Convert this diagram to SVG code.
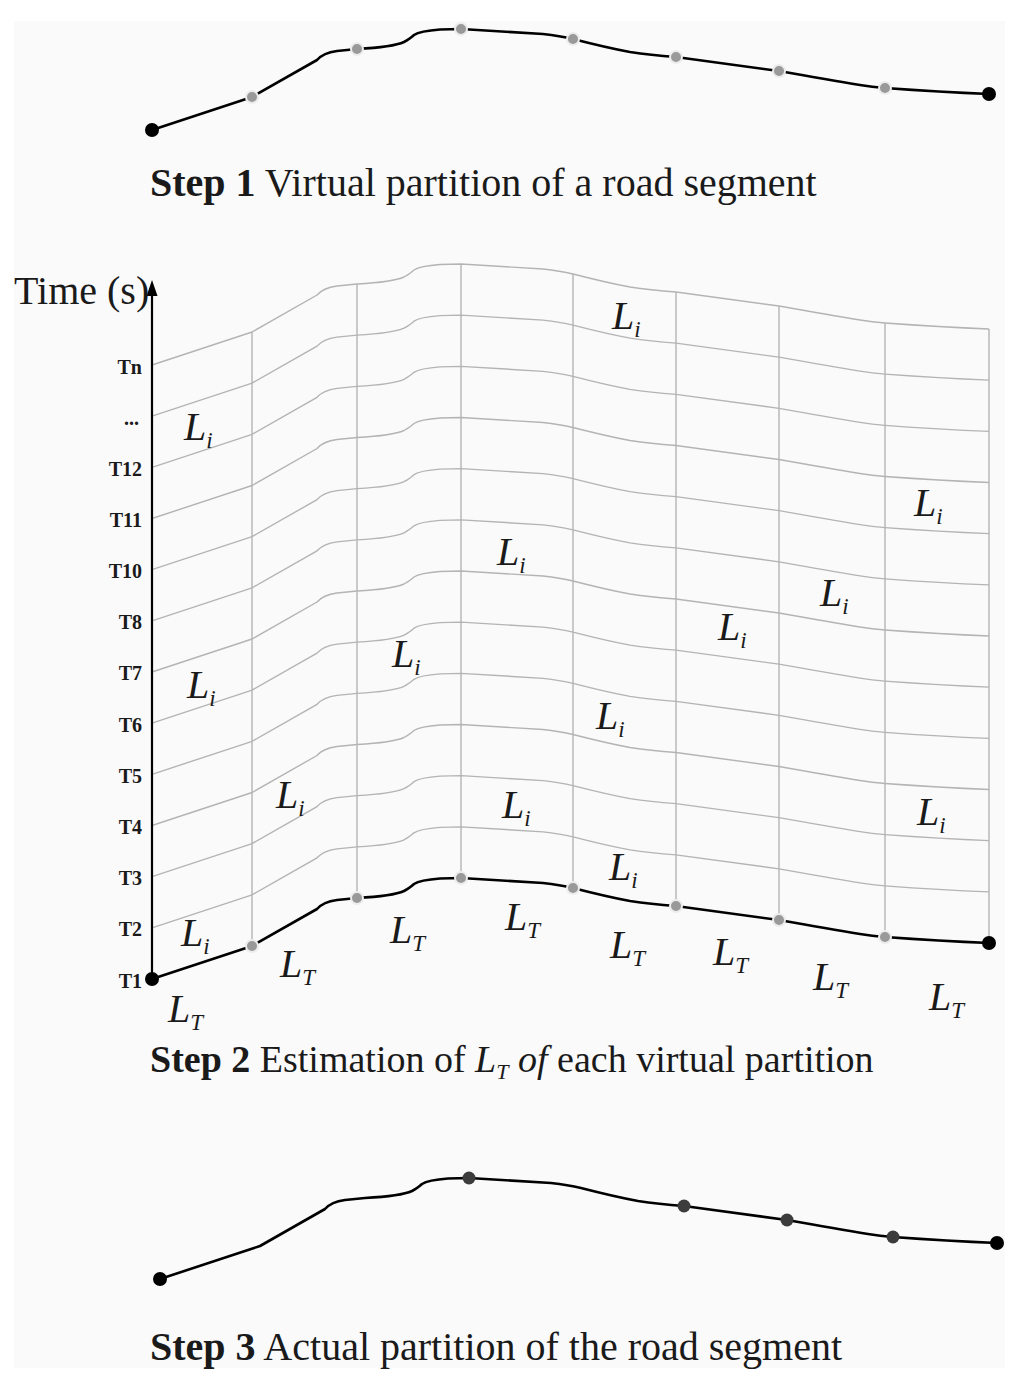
<svg xmlns="http://www.w3.org/2000/svg" xmlns:xlink="http://www.w3.org/1999/xlink" width="1024" height="1379" viewBox="0 0 1024 1379">
<style>
.road{fill:none;stroke:#000;stroke-width:2.6;stroke-linejoin:round;stroke-linecap:round}
.grid{fill:none;stroke:#b4b4b4;stroke-width:1.4}
.vd{fill:#999;stroke:#ececec;stroke-width:2}
.end{fill:#000}
.ad{fill:#3c3c3c}
.step{font-family:"Liberation Serif","Times New Roman",serif;font-size:40px;fill:#1a1a1a}
.b{font-weight:bold}
.tl{font-family:"Liberation Serif","Times New Roman",serif;font-size:20px;font-weight:bold;fill:#1a1a1a;text-anchor:end}
.L{font-family:"Liberation Serif","Times New Roman",serif;font-style:italic;font-size:40px;fill:#1a1a1a}
.sub{font-size:23px}
</style>
<defs>
<path id="curve" d="M152,130 L240,101 Q246,99 252,97 L317,60 Q323,53 337,51 L357,49 Q393,47 404,42 Q411,38 414,35 Q420,31 440,29.5 L461,29 L543,34 Q560,36 573,39 Q608,48 630,52 Q650,55 676,57 L779,71 Q830,80 860,85 Q872,87 885,88 Q940,92 989,94"/>
</defs>
<rect x="0" y="0" width="1024" height="1379" fill="#fff"/>
<rect x="14" y="21" width="991" height="1347" fill="#fafafa"/>

<g id="connectors">
  <g id="step1-road"><use xlink:href="#curve" class="road"/></g>
  <g id="grid-curves" class="grid">
    <use xlink:href="#curve" transform="translate(0,797.83)"/>
    <use xlink:href="#curve" transform="translate(0,746.66)"/>
    <use xlink:href="#curve" transform="translate(0,695.5)"/>
    <use xlink:href="#curve" transform="translate(0,644.33)"/>
    <use xlink:href="#curve" transform="translate(0,593.16)"/>
    <use xlink:href="#curve" transform="translate(0,542)"/>
    <use xlink:href="#curve" transform="translate(0,490.83)"/>
    <use xlink:href="#curve" transform="translate(0,439.66)"/>
    <use xlink:href="#curve" transform="translate(0,388.5)"/>
    <use xlink:href="#curve" transform="translate(0,337.33)"/>
    <use xlink:href="#curve" transform="translate(0,286.16)"/>
    <use xlink:href="#curve" transform="translate(0,235)"/>
  </g>
  <g id="grid-verticals" class="grid">
    <line x1="252" y1="946" x2="252" y2="332"/>
    <line x1="357" y1="898" x2="357" y2="284"/>
    <line x1="461" y1="878" x2="461" y2="264"/>
    <line x1="573" y1="888" x2="573" y2="274"/>
    <line x1="676" y1="906" x2="676" y2="292"/>
    <line x1="779" y1="920" x2="779" y2="306"/>
    <line x1="885" y1="937" x2="885" y2="323"/>
    <line x1="989" y1="943" x2="989" y2="329"/>
  </g>
  <g id="step2-road"><use xlink:href="#curve" class="road" transform="translate(0,849)"/></g>
  <g id="time-axis">
    <line x1="152" y1="979" x2="152" y2="292" stroke="#000" stroke-width="2.2"/>
    <polygon points="152,280 146.5,296 157.5,296" fill="#000"/>
  </g>
  <g id="step3-road"><use xlink:href="#curve" class="road" transform="translate(8,1149)"/></g>
</g>

<g id="step1-nodes">
  <circle class="end" cx="152" cy="130" r="7"/>
  <circle class="vd" cx="252" cy="97" r="6"/>
  <circle class="vd" cx="357" cy="49" r="6"/>
  <circle class="vd" cx="461" cy="29" r="6"/>
  <circle class="vd" cx="573" cy="39" r="6"/>
  <circle class="vd" cx="676" cy="57" r="6"/>
  <circle class="vd" cx="779" cy="71" r="6"/>
  <circle class="vd" cx="885" cy="88" r="6"/>
  <circle class="end" cx="989" cy="94" r="7"/>
</g>
<g id="step1-label"><text class="step" x="150" y="196"><tspan class="b">Step 1</tspan> Virtual partition of a road segment</text></g>

<g id="axis-label"><text class="step" x="14" y="304">Time (s)</text></g>
<g id="time-labels">
  <text class="tl" x="142" y="988">T1</text>
  <text class="tl" x="142" y="936">T2</text>
  <text class="tl" x="142" y="885">T3</text>
  <text class="tl" x="142" y="834">T4</text>
  <text class="tl" x="142" y="783">T5</text>
  <text class="tl" x="142" y="732">T6</text>
  <text class="tl" x="142" y="680">T7</text>
  <text class="tl" x="142" y="629">T8</text>
  <text class="tl" x="142" y="578">T10</text>
  <text class="tl" x="142" y="527">T11</text>
  <text class="tl" x="142" y="476">T12</text>
  <text class="tl" x="139" y="425">...</text>
  <text class="tl" x="142" y="374">Tn</text>
</g>

<g id="step2-nodes">
  <circle class="end" cx="152" cy="979" r="7"/>
  <circle class="vd" cx="252" cy="946" r="6"/>
  <circle class="vd" cx="357" cy="898" r="6"/>
  <circle class="vd" cx="461" cy="878" r="6"/>
  <circle class="vd" cx="573" cy="888" r="6"/>
  <circle class="vd" cx="676" cy="906" r="6"/>
  <circle class="vd" cx="779" cy="920" r="6"/>
  <circle class="vd" cx="885" cy="937" r="6"/>
  <circle class="end" cx="989" cy="943" r="7"/>
</g>

<g id="li-labels">
  <text class="L" x="612" y="329">L<tspan class="sub" dy="8">i</tspan></text>
  <text class="L" x="184" y="440">L<tspan class="sub" dy="8">i</tspan></text>
  <text class="L" x="914" y="516">L<tspan class="sub" dy="8">i</tspan></text>
  <text class="L" x="497" y="565">L<tspan class="sub" dy="8">i</tspan></text>
  <text class="L" x="820" y="606">L<tspan class="sub" dy="8">i</tspan></text>
  <text class="L" x="718" y="640">L<tspan class="sub" dy="8">i</tspan></text>
  <text class="L" x="392" y="667">L<tspan class="sub" dy="8">i</tspan></text>
  <text class="L" x="187" y="698">L<tspan class="sub" dy="8">i</tspan></text>
  <text class="L" x="596" y="729">L<tspan class="sub" dy="8">i</tspan></text>
  <text class="L" x="276" y="808">L<tspan class="sub" dy="8">i</tspan></text>
  <text class="L" x="502" y="818">L<tspan class="sub" dy="8">i</tspan></text>
  <text class="L" x="917" y="825">L<tspan class="sub" dy="8">i</tspan></text>
  <text class="L" x="609" y="880">L<tspan class="sub" dy="8">i</tspan></text>
  <text class="L" x="181" y="946">L<tspan class="sub" dy="8">i</tspan></text>
</g>
<g id="lt-labels">
  <text class="L" x="168" y="1022">L<tspan class="sub" dy="8">T</tspan></text>
  <text class="L" x="280" y="977">L<tspan class="sub" dy="8">T</tspan></text>
  <text class="L" x="390" y="943">L<tspan class="sub" dy="8">T</tspan></text>
  <text class="L" x="505" y="930">L<tspan class="sub" dy="8">T</tspan></text>
  <text class="L" x="610" y="958">L<tspan class="sub" dy="8">T</tspan></text>
  <text class="L" x="713" y="965">L<tspan class="sub" dy="8">T</tspan></text>
  <text class="L" x="813" y="990">L<tspan class="sub" dy="8">T</tspan></text>
  <text class="L" x="929" y="1010">L<tspan class="sub" dy="8">T</tspan></text>
</g>
<g id="step2-label"><text class="step" x="150" y="1072" style="font-size:38px"><tspan class="b">Step 2</tspan> Estimation of <tspan font-style="italic">L<tspan style="font-size:22px" dy="7">T</tspan><tspan dy="-7"> of</tspan></tspan> each virtual partition</text></g>

<g id="step3-nodes">
  <circle class="end" cx="160" cy="1279" r="7"/>
  <circle class="ad" cx="469" cy="1178" r="6.5"/>
  <circle class="ad" cx="684" cy="1206" r="6.5"/>
  <circle class="ad" cx="787" cy="1220" r="6.5"/>
  <circle class="ad" cx="893" cy="1237" r="6.5"/>
  <circle class="end" cx="997" cy="1243" r="7"/>
</g>
<g id="step3-label"><text class="step" x="150" y="1360"><tspan class="b">Step 3</tspan> Actual partition of the road segment</text></g>
</svg>
